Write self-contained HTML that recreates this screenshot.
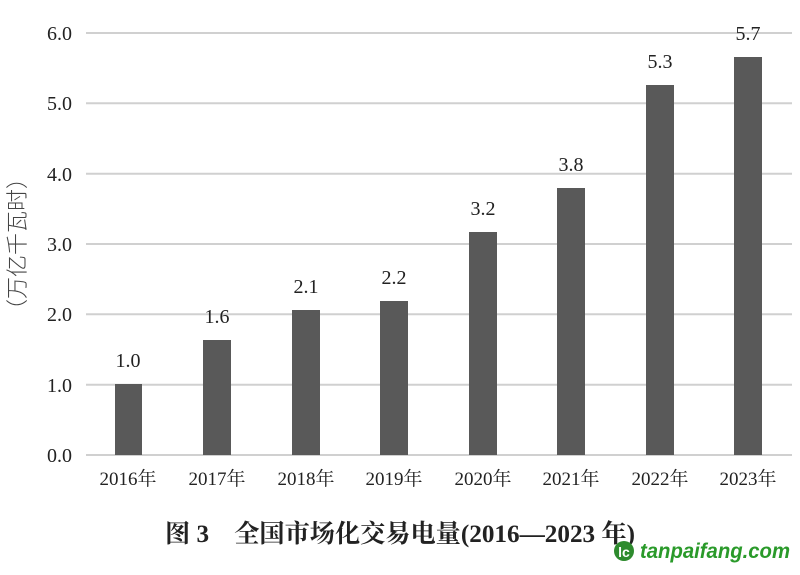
<!DOCTYPE html>
<html><head><meta charset="utf-8"><style>
body{margin:0;background:#fff;width:800px;height:570px;overflow:hidden}
svg text{font-family:"Liberation Serif","Noto Serif CJK SC",serif;fill:#222}
</style></head><body>
<svg width="800" height="570" viewBox="0 0 800 570">
<g stroke="#d0d0d0" stroke-width="2">
<line x1="86" x2="792" y1="33" y2="33"/><line x1="86" x2="792" y1="103.3" y2="103.3"/>
<line x1="86" x2="792" y1="173.7" y2="173.7"/><line x1="86" x2="792" y1="244" y2="244"/>
<line x1="86" x2="792" y1="314.3" y2="314.3"/><line x1="86" x2="792" y1="384.7" y2="384.7"/>
<line x1="86" x2="792" y1="455" y2="455"/></g>
<g font-size="20" text-anchor="end">
<text x="72" y="40">6.0</text><text x="72" y="110">5.0</text><text x="72" y="181">4.0</text>
<text x="72" y="251">3.0</text><text x="72" y="321">2.0</text><text x="72" y="392">1.0</text><text x="72" y="462">0.0</text></g>
<text transform="translate(25,244) rotate(-90)" font-size="22" text-anchor="middle" style="fill:#444;font-family:'Noto Sans CJK SC',sans-serif;font-weight:300">（万亿千瓦时）</text>
<g fill="#595959">
<rect x="115" y="384" width="27" height="71"/>
<rect x="203" y="340" width="28" height="115"/>
<rect x="292" y="310" width="28" height="145"/>
<rect x="380" y="301" width="28" height="154"/>
<rect x="469" y="232" width="28" height="223"/>
<rect x="557" y="188" width="28" height="267"/>
<rect x="646" y="85" width="28" height="370"/>
<rect x="734" y="57" width="28" height="398"/></g>
<g font-size="20" text-anchor="middle">
<text x="128" y="367">1.0</text><text x="217" y="323">1.6</text><text x="306" y="293">2.1</text>
<text x="394" y="284">2.2</text><text x="483" y="215">3.2</text><text x="571" y="171">3.8</text>
<text x="660" y="68">5.3</text><text x="748" y="40">5.7</text></g>
<g font-size="19" text-anchor="middle">
<text x="128" y="485">2016年</text><text x="217" y="485">2017年</text><text x="306" y="485">2018年</text>
<text x="394" y="485">2019年</text><text x="483" y="485">2020年</text><text x="571" y="485">2021年</text>
<text x="660" y="485">2022年</text><text x="748" y="485">2023年</text></g>
<text x="400" y="542" font-size="25" font-weight="bold" text-anchor="middle" textLength="470" lengthAdjust="spacingAndGlyphs">图 3　全国市场化交易电量(2016—2023 年)</text>
<circle cx="624" cy="551" r="10" fill="#2e8b2e"/>
<text x="624" y="557" font-size="14" text-anchor="middle" style="fill:#fff;font-family:'Liberation Sans',sans-serif;font-weight:bold">lc</text>
<text x="640" y="558" font-size="21" textLength="150" lengthAdjust="spacingAndGlyphs" style="fill:#2a9a2a;font-family:'Liberation Sans',sans-serif;font-weight:bold;font-style:italic">tanpaifang.com</text>
</svg>
</body></html>
